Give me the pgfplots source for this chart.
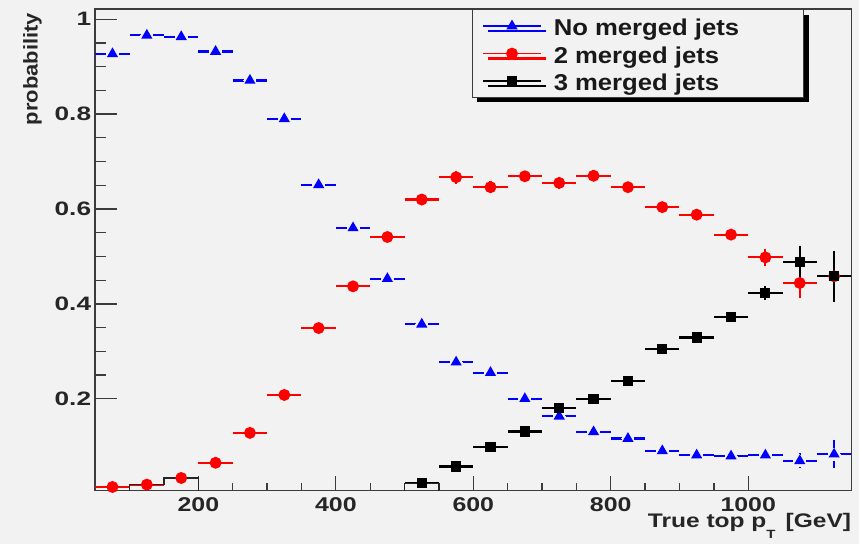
\documentclass[border=0pt]{standalone}
\usepackage{fontspec}
\setmainfont{Liberation Sans}[FakeStretch=1.1]
\newfontfamily\tickfont{Liberation Sans}[FakeStretch=1.25]
\newfontfamily\ytickfont{Liberation Sans}[FakeStretch=1.35]
\newfontfamily\legfont{Liberation Sans}[FakeStretch=1.12]
\usepackage{pgfplots}
\usepackage{pgfplotstable}
\pgfplotsset{compat=1.18}
\usetikzlibrary{shadows}
\definecolor{bg}{RGB}{242,242,242}
\definecolor{rblue}{RGB}{0,0,255}
\definecolor{rred}{RGB}{255,0,0}
\definecolor{frame}{RGB}{60,60,60}
\newcommand{\legstrut}{\rule[-8bp]{0pt}{29bp}}

\pgfplotstableread{
x y ex ey
75 0.927 25 0.005
125 0.966 25 0.005
175 0.963 25 0.005
225 0.932 25 0.005
275 0.871 25 0.005
325 0.790 25 0.005
375 0.651 25 0.006
425 0.560 25 0.006
475 0.453 25 0.006
525 0.357 25 0.007
575 0.277 25 0.012
625 0.255 25 0.010
675 0.200 25 0.008
725 0.163 25 0.008
775 0.130 25 0.007
825 0.116 25 0.007
875 0.090 25 0.007
925 0.081 25 0.007
975 0.079 25 0.007
1025 0.081 25 0.009
1075 0.069 25 0.016
1125 0.083 25 0.030
}\nomerged

\pgfplotstableread{
x y ex ey
75 0.014 25 0.003
125 0.019 25 0.003
175 0.033 25 0.004
225 0.065 25 0.005
275 0.128 25 0.005
325 0.208 25 0.006
375 0.349 25 0.006
425 0.437 25 0.007
475 0.541 25 0.007
525 0.620 25 0.009
575 0.667 25 0.014
625 0.646 25 0.012
675 0.669 25 0.012
725 0.655 25 0.012
775 0.670 25 0.012
825 0.646 25 0.010
875 0.604 25 0.010
925 0.588 25 0.010
975 0.546 25 0.010
1025 0.498 25 0.018
1075 0.444 25 0.032
1125 0.458 25 0.050
}\twomerged

\pgfplotstableread{
x y ex ey
525 0.022 25 0.004
575 0.057 25 0.005
625 0.098 25 0.006
675 0.131 25 0.006
725 0.181 25 0.008
775 0.199 25 0.008
825 0.238 25 0.008
875 0.305 25 0.009
925 0.329 25 0.009
975 0.373 25 0.010
1025 0.4225 25 0.015
1075 0.488 25 0.035
1125 0.458 25 0.053
}\threemerged

\begin{document}
\begin{tikzpicture}
\fill[bg] (-95.3bp,-53.7bp) rectangle (763.7bp,490.3bp);
\useasboundingbox (-95.3bp,-53.7bp) rectangle (763.7bp,490.3bp);
\begin{axis}[
  at={(0,0)}, anchor=south west,
  scale only axis, width=756bp, height=481bp,
  xmin=50, xmax=1150, ymin=0.007, ymax=1.021,
  xtick={200,400,600,800,1000},
  ytick={0.2,0.4,0.6,0.8,1},
  minor x tick num=3, minor y tick num=3,
  tick align=inside, tick pos=left,
  major tick length=22bp, minor tick length=11bp,
  xtick style={/pgfplots/major tick length=14bp,/pgfplots/minor tick length=7bp},
  every tick/.style={line width=1.3bp, frame},
  axis line style={line width=1.6bp, frame},
  axis background/.style={fill=bg},
  /pgf/number format/assume math mode=true,
  /pgf/number format/1000 sep={},
  xticklabel style={font=\tickfont\bfseries\fontsize{20}{24}\selectfont, text=black!85,
    inner sep=0pt, yshift=-7.5bp},
  yticklabel style={font=\ytickfont\bfseries\fontsize{19.5}{24}\selectfont, text=black!85,
    inner sep=0pt, xshift=-4bp},
  xlabel={True top p\raisebox{-11bp}{\fontsize{12}{12}\selectfont T}\, [GeV]},
  xlabel style={at={(rel axis cs:1,0)}, anchor=north east, inner sep=0pt, yshift=-22.5bp,
    font=\tickfont\bfseries\fontsize{19.7}{24}\selectfont, text=black!85},
  ylabel={probability},
  ylabel style={at={(axis description cs:-0.0705,0.9923)}, anchor=south east, inner sep=0pt,
    font=\bfseries\fontsize{20}{24}\selectfont, text=black!85},
  legend style={at={(axis description cs:0.4979,1)}, anchor=north west,
    draw=frame, line width=1.1bp, fill=bg,
    drop shadow={shadow xshift=5bp, shadow yshift=-5bp, fill=black, opacity=1},
    inner xsep=10bp, inner ysep=3bp, row sep=1bp,
    font=\legfont\bfseries\fontsize{23}{27}\selectfont, text=black!90},
  legend cell align=left,
  legend image code/.code={
    \draw[#1, sharp plot, mark=none, line width=1.5bp] plot coordinates {(0bp,0bp) (58bp,0bp)};
    \draw[#1, only marks] plot coordinates {(29bp,0bp)};
  },
  clip=true,
]
% blue: error bars, then a background halo that opens the gap around the marker, then the marks
\addplot[rblue, only marks, mark=none, forget plot,
  error bars/.cd, x dir=both, x explicit, y dir=both, y explicit,
  error mark=none, error bar style={line width=2.2bp, rblue}]
  table[x=x, y=y, x error=ex, y error=ey] {\nomerged};
\addplot[color=bg, only marks, mark=*, mark size=6bp, mark options={draw=bg, fill=bg, line width=0pt}, forget plot]
  table[x=x, y=y] {\nomerged};
\addplot[rblue, only marks, mark=triangle*, mark size=4.3bp, line width=2.2bp]
  table[x=x, y=y] {\nomerged};
\addlegendentry{\legstrut\hspace*{10bp}\makebox[238bp][l]{No merged jets}}

\addplot[rred, only marks, mark=*, mark size=4.8bp, line width=2.2bp,
  error bars/.cd, x dir=both, x explicit, y dir=both, y explicit,
  error mark=none, error bar style={line width=2.2bp, rred}]
  table[x=x, y=y, x error=ex, y error=ey] {\twomerged};
\addlegendentry{\legstrut\hspace*{10bp}2 merged jets}

\addplot[black, only marks, mark=square*, mark size=4bp, line width=2.2bp,
  error bars/.cd, x dir=both, x explicit, y dir=both, y explicit,
  error mark=none, error bar style={line width=2.2bp, black}]
  table[x=x, y=y, x error=ex, y error=ey] {\threemerged};
\addlegendentry{\legstrut\hspace*{10bp}3 merged jets}

\addplot[black!85, line width=1.2bp, const plot, mark=none, forget plot]
  coordinates {(100,0) (100,0.019) (150,0.033) (200,0)};
\addplot[black!85, line width=1.2bp, const plot, mark=none, forget plot]
  coordinates {(500,0) (500,0.022) (550,0)};
\end{axis}
\end{tikzpicture}
\end{document}
